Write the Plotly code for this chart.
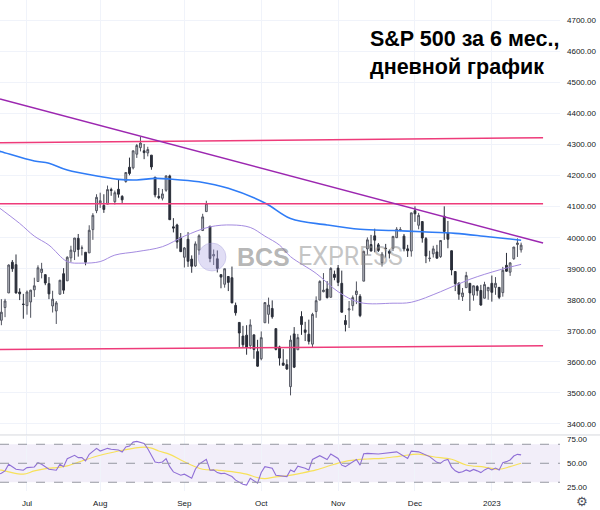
import plotly.graph_objects as go
from plotly.subplots import make_subplots

# daily S&P 500 bars
dates = [
    "2022-06-21", "2022-06-22", "2022-06-23", "2022-06-24", "2022-06-27", "2022-06-28", "2022-06-29", "2022-06-30",
    "2022-07-01", "2022-07-05", "2022-07-06", "2022-07-07", "2022-07-08", "2022-07-11", "2022-07-12", "2022-07-13",
    "2022-07-14", "2022-07-15", "2022-07-18", "2022-07-19", "2022-07-20", "2022-07-21", "2022-07-22", "2022-07-25",
    "2022-07-26", "2022-07-27", "2022-07-28", "2022-07-29",
    "2022-08-01", "2022-08-02", "2022-08-03", "2022-08-04", "2022-08-05", "2022-08-08", "2022-08-09", "2022-08-10",
    "2022-08-11", "2022-08-12", "2022-08-15", "2022-08-16", "2022-08-17", "2022-08-18", "2022-08-19", "2022-08-22",
    "2022-08-23", "2022-08-24", "2022-08-25", "2022-08-26", "2022-08-29", "2022-08-30", "2022-08-31",
    "2022-09-01", "2022-09-02", "2022-09-06", "2022-09-07", "2022-09-08", "2022-09-09", "2022-09-12", "2022-09-13",
    "2022-09-14", "2022-09-15", "2022-09-16", "2022-09-19", "2022-09-20", "2022-09-21", "2022-09-22", "2022-09-23",
    "2022-09-26", "2022-09-27", "2022-09-28", "2022-09-29", "2022-09-30",
    "2022-10-03", "2022-10-04", "2022-10-05", "2022-10-06", "2022-10-07", "2022-10-10", "2022-10-11", "2022-10-12",
    "2022-10-13", "2022-10-14", "2022-10-17", "2022-10-18", "2022-10-19", "2022-10-20", "2022-10-21", "2022-10-24",
    "2022-10-25", "2022-10-26", "2022-10-27", "2022-10-28", "2022-10-31",
    "2022-11-01", "2022-11-02", "2022-11-03", "2022-11-04", "2022-11-07", "2022-11-08", "2022-11-09", "2022-11-10",
    "2022-11-11", "2022-11-14", "2022-11-15", "2022-11-16", "2022-11-17", "2022-11-18", "2022-11-21", "2022-11-22",
    "2022-11-23", "2022-11-25", "2022-11-28", "2022-11-29", "2022-11-30",
    "2022-12-01", "2022-12-02", "2022-12-05", "2022-12-06", "2022-12-07", "2022-12-08", "2022-12-09", "2022-12-12",
    "2022-12-13", "2022-12-14", "2022-12-15", "2022-12-16", "2022-12-19", "2022-12-20", "2022-12-21", "2022-12-22",
    "2022-12-23", "2022-12-27", "2022-12-28", "2022-12-29", "2022-12-30",
    "2023-01-03", "2023-01-04", "2023-01-05", "2023-01-06", "2023-01-09", "2023-01-10", "2023-01-11", "2023-01-12",
    "2023-01-13",
]
opens = [
    3715, 3734, 3775, 3822, 3921, 3913, 3825, 3786,
    3781, 3793, 3832, 3859, 3888, 3881, 3852, 3780, 3764, 3818, 3884, 3861, 3935, 3955, 3998, 3966, 3953, 3951, 4026, 4087,
    4112, 4104, 4108, 4155, 4116, 4156, 4133, 4181, 4227, 4225, 4269, 4290, 4280, 4273, 4266, 4195, 4133, 4127, 4153, 4199,
    4035, 4041, 4001,
    3937, 3995, 3931, 3909, 3960, 4023, 4084, 4037, 3941, 3932, 3881, 3850, 3875, 3871, 3782, 3727, 3683, 3686, 3652, 3687,
    3633,
    3610, 3726, 3753, 3772, 3707, 3648, 3596, 3591, 3520, 3690, 3639, 3746, 3703, 3689, 3657, 3762, 3799, 3826, 3835, 3808,
    3882,
    3902, 3853, 3733, 3767, 3781, 3817, 3811, 3860, 3964, 3978, 4006, 3977, 3919, 3966, 3956, 3966, 4000, 4023, 4005, 3964,
    3957,
    4087, 4040, 4052, 3997, 3933, 3948, 3954, 3939, 4069, 4016, 3958, 3891, 3854, 3810, 3839, 3853, 3815, 3843, 3830, 3805,
    3829,
    3853, 3840, 3840, 3823, 3911, 3889, 3932, 3978, 3961,
]
highs = [
    3780, 3802, 3803, 3914, 3928, 3946, 3837, 3819,
    3830, 3832, 3871, 3911, 3919, 3881, 3873, 3829, 3796, 3864, 3902, 3940, 3974, 3999, 4012, 3975, 3953, 4040, 4079, 4140,
    4145, 4140, 4168, 4161, 4152, 4187, 4137, 4211, 4258, 4280, 4302, 4325, 4302, 4293, 4266, 4195, 4160, 4157, 4201, 4203,
    4063, 4045, 4015,
    3970, 4018, 3943, 3988, 4011, 4077, 4119, 4037, 3962, 3959, 3881, 3900, 3876, 3907, 3791, 3727, 3716, 3718, 3737, 3687,
    3671,
    3698, 3792, 3807, 3798, 3707, 3652, 3641, 3608, 3685, 3712, 3690, 3763, 3729, 3736, 3758, 3811, 3863, 3886, 3860, 3905,
    3894,
    3912, 3894, 3751, 3796, 3814, 3859, 3818, 3958, 4001, 4009, 4029, 3983, 3954, 3980, 3962, 4006, 4034, 4034, 4012, 3977,
    4080,
    4101, 4080, 4052, 4002, 3958, 3974, 3977, 3991, 4101, 4054, 3958, 3891, 3855, 3838, 3890, 3853, 3846, 3847, 3848, 3858,
    3840,
    3878, 3873, 3840, 3906, 3951, 3920, 3970, 3998, 3984,
]
lows = [
    3715, 3718, 3744, 3822, 3890, 3820, 3799, 3739,
    3752, 3742, 3809, 3859, 3869, 3847, 3802, 3759, 3722, 3817, 3819, 3861, 3922, 3928, 3939, 3943, 3911, 3951, 3993, 4079,
    4096, 4080, 4108, 4135, 4107, 4129, 4112, 4177, 4201, 4220, 4257, 4278, 4253, 4262, 4219, 4130, 4124, 4120, 4148, 4058,
    4017, 3965, 3955,
    3904, 3906, 3887, 3906, 3945, 4023, 4084, 3921, 3912, 3888, 3837, 3839, 3828, 3789, 3749, 3647, 3645, 3623, 3641, 3610,
    3584,
    3605, 3726, 3723, 3739, 3637, 3588, 3591, 3574, 3492, 3580, 3639, 3687, 3667, 3656, 3647, 3742, 3799, 3824, 3804, 3808,
    3863,
    3844, 3759, 3698, 3709, 3765, 3786, 3744, 3860, 3945, 3956, 3953, 3954, 3907, 3936, 3933, 3957, 3999, 4021, 3956, 3938,
    3939,
    4051, 4027, 3984, 3918, 3923, 3936, 3933, 3935, 3993, 3966, 3879, 3828, 3800, 3796, 3839, 3764, 3797, 3813, 3781, 3805,
    3800,
    3794, 3816, 3802, 3810, 3890, 3877, 3929, 3938, 3952,
]
closes = [
    3765, 3760, 3796, 3912, 3900, 3822, 3819, 3785,
    3825, 3831, 3845, 3903, 3899, 3854, 3819, 3802, 3790, 3863, 3831, 3937, 3960, 3999, 3962, 3967, 3921, 4024, 4072, 4130,
    4119, 4091, 4155, 4152, 4145, 4140, 4122, 4210, 4207, 4280, 4297, 4305, 4274, 4284, 4228, 4138, 4129, 4141, 4199, 4058,
    4031, 3986, 3955,
    3967, 3924, 3908, 3980, 4006, 4067, 4110, 3933, 3946, 3901, 3873, 3900, 3856, 3790, 3758, 3693, 3655, 3647, 3719, 3640,
    3586,
    3678, 3791, 3783, 3745, 3640, 3612, 3589, 3577, 3670, 3583, 3678, 3720, 3695, 3666, 3753, 3797, 3859, 3831, 3807, 3901,
    3872,
    3856, 3760, 3720, 3771, 3807, 3828, 3749, 3956, 3993, 3957, 3992, 3959, 3947, 3965, 3950, 4004, 4027, 4026, 3964, 3958,
    4080,
    4077, 4072, 3999, 3941, 3934, 3964, 3934, 3991, 4020, 3995, 3896, 3852, 3818, 3822, 3878, 3822, 3845, 3829, 3783, 3849,
    3840,
    3824, 3853, 3808, 3895, 3892, 3919, 3970, 3983, 3976,
]

# moving averages (blue = 200, violet = 50)
ma200_dates = ["2022-06-21", "2022-06-22", "2022-07-06", "2022-07-12", "2022-07-19", "2022-08-01", "2022-08-08",
               "2022-08-15", "2022-08-22", "2022-08-26", "2022-09-08", "2022-09-20", "2022-10-04", "2022-10-13",
               "2022-10-27", "2022-11-09", "2022-11-22", "2022-12-05", "2022-12-16", "2022-12-30", "2023-01-13"]
ma200 = [4280, 4277, 4247, 4240, 4218, 4197, 4188, 4186, 4191, 4189, 4180, 4159, 4112, 4062, 4041, 4027, 4023,
         4019, 4014, 4003, 3992]
ma50_dates = ["2022-06-21", "2022-06-29", "2022-07-06", "2022-07-12", "2022-07-19", "2022-07-25", "2022-08-01",
              "2022-08-05", "2022-08-15", "2022-08-24", "2022-09-01", "2022-09-13", "2022-09-21", "2022-09-28",
              "2022-10-04", "2022-10-10", "2022-10-13", "2022-10-24", "2022-11-01", "2022-11-09", "2022-11-22",
              "2022-11-30", "2022-12-12", "2022-12-22", "2023-01-05", "2023-01-13"]
ma50 = [4100, 4046, 4005, 3976, 3923, 3918, 3923, 3944, 3955, 3971, 4005, 4035, 4041, 4033, 4005, 3976, 3939,
        3885, 3826, 3791, 3789, 3792, 3826, 3866, 3896, 3914]

# RSI panel
rsi_dates = ["2022-06-21", "2022-06-22", "2022-06-23", "2022-06-24", "2022-06-27", "2022-06-28", "2022-06-30",
             "2022-07-01", "2022-07-06", "2022-07-07", "2022-07-08", "2022-07-12", "2022-07-14", "2022-07-15",
             "2022-07-18", "2022-07-19", "2022-07-21", "2022-07-22", "2022-07-25", "2022-07-26", "2022-07-27",
             "2022-07-29", "2022-08-01", "2022-08-03", "2022-08-04", "2022-08-08", "2022-08-09", "2022-08-10",
             "2022-08-11", "2022-08-12", "2022-08-15", "2022-08-17", "2022-08-18", "2022-08-22", "2022-08-23",
             "2022-08-24", "2022-08-25", "2022-08-26", "2022-08-29", "2022-08-31", "2022-09-01", "2022-09-06",
             "2022-09-07", "2022-09-08", "2022-09-12", "2022-09-13", "2022-09-14", "2022-09-15", "2022-09-16",
             "2022-09-19", "2022-09-21", "2022-09-22", "2022-09-26", "2022-09-27", "2022-09-28", "2022-09-29",
             "2022-09-30", "2022-10-03", "2022-10-04", "2022-10-06", "2022-10-07", "2022-10-12", "2022-10-13",
             "2022-10-14", "2022-10-17", "2022-10-19", "2022-10-20", "2022-10-21", "2022-10-25", "2022-10-27",
             "2022-10-28", "2022-11-01", "2022-11-02", "2022-11-03", "2022-11-07", "2022-11-08", "2022-11-09",
             "2022-11-10", "2022-11-11", "2022-11-16", "2022-11-23", "2022-11-29", "2022-11-30", "2022-12-02",
             "2022-12-07", "2022-12-09", "2022-12-12", "2022-12-13", "2022-12-14", "2022-12-15", "2022-12-16",
             "2022-12-19", "2022-12-20", "2022-12-21", "2022-12-22", "2022-12-23", "2022-12-27", "2022-12-28",
             "2022-12-29", "2022-12-30", "2023-01-03", "2023-01-04", "2023-01-05", "2023-01-06", "2023-01-09",
             "2023-01-10", "2023-01-11", "2023-01-12", "2023-01-13"]
rsi = [38, 39.5, 42, 49, 46.4, 43.7, 42.7,
       45.4, 46.1, 50.6, 49, 43.7, 42.7, 49,
       46.4, 54.8, 58.4, 55.9, 55.9, 52.4, 59.4,
       65.7, 62.9, 65.7, 64.7, 63.9, 61.8, 67.1,
       68.1, 72.3, 73, 70.9, 65.3, 51.4, 50.6,
       51.4, 54.8, 46.4, 40.9, 37.4, 38.5, 34.3,
       43.7, 49, 54.2, 42.7, 43, 40.2, 39.1,
       39.5, 36, 32.2, 28, 27, 34.3, 31.5,
       29.1, 40.2, 46.4, 44.8, 37.4, 36, 43,
       41, 47, 44.8, 43, 54, 58, 54,
       59.7, 55, 48, 46.5, 51.7, 54, 48,
       60, 60.4, 59.7, 62, 55, 62.8, 62,
       57, 51, 50, 53, 54, 46, 42,
       40.2, 41, 43, 41.5, 43.5, 42, 40.2,
       43, 44.9, 43, 45, 43, 50.7, 51.7,
       53.5, 57.6, 59.4, 58.8]
rsi_ma_dates = ["2022-06-21", "2022-06-22", "2022-06-24", "2022-06-30", "2022-07-06", "2022-07-12", "2022-07-14",
                "2022-07-19", "2022-07-25", "2022-08-01", "2022-08-08", "2022-08-12", "2022-08-17", "2022-08-19",
                "2022-08-23", "2022-08-26", "2022-08-31", "2022-09-06", "2022-09-09", "2022-09-15", "2022-09-21",
                "2022-09-27", "2022-09-30", "2022-10-04", "2022-10-07", "2022-10-12", "2022-10-18", "2022-10-24",
                "2022-10-31", "2022-11-04", "2022-11-11", "2022-11-17", "2022-11-25", "2022-12-02", "2022-12-08",
                "2022-12-15", "2022-12-21", "2022-12-29", "2023-01-05", "2023-01-10", "2023-01-13"]
rsi_ma = [43.2, 42.7, 40.9, 38.5, 41.9, 44.8, 45.4, 47.2, 52.4, 58.4, 62.9, 65.7, 67.1, 66, 62.9, 59.4, 53.5,
          47.9, 43.7, 42.7, 41.2, 38.5, 34.9, 33.9, 35.7, 36.8, 39.6, 43, 49, 52.7, 54.5, 55.2, 57.6, 59.7,
          56.9, 54.2, 48.2, 46, 43.7, 46.4, 50]

# drawn levels: (start value, end value)
line_start = "2022-06-22 03:00"
line_end = "2023-01-23 12:00"
pink_levels = [(4306, 4322), (4109, 4109), (3640, 3652)]
trend_level = (4447, 3983)

month_ticks = ["2022-07-01", "2022-08-01", "2022-09-01", "2022-10-03", "2022-11-01", "2022-12-01", "2023-01-03"]
month_labels = ["Jul", "Aug", "Sep", "Oct", "Nov", "Dec", "2023"]
holidays = ["2022-07-04", "2022-09-05", "2022-11-24", "2022-12-26", "2023-01-02"]


def noon(days):
    return [d + " 12:00" for d in days]


grid = "#f0f3fa"
tick_font = dict(family="Liberation Sans, Arial", size=8, color="#131722")

fig = make_subplots(rows=2, cols=1, shared_xaxes=True)

fig.add_trace(go.Candlestick(
    x=noon(dates), open=opens, high=highs, low=lows, close=closes,
    increasing=dict(line=dict(color="#50535e", width=1), fillcolor="#c4c7ce"),
    decreasing=dict(line=dict(color="#2a2e39", width=1), fillcolor="#2a2e39"),
    hoverinfo="skip", showlegend=False), row=1, col=1)
fig.add_trace(go.Scatter(x=noon(ma200_dates), y=ma200, mode="lines", line=dict(color="#2f7cf6", width=1.6, shape="spline"),
                         hoverinfo="skip"), row=1, col=1)
fig.add_trace(go.Scatter(x=noon(ma50_dates), y=ma50, mode="lines", line=dict(color="#a48be0", width=1, shape="spline"),
                         hoverinfo="skip"), row=1, col=1)

for v0, v1 in pink_levels:
    fig.add_shape(type="line", xref="x", yref="y", x0=line_start, x1=line_end, y0=v0, y1=v1,
                  line=dict(color="#ee3b7a", width=1.5))
fig.add_shape(type="line", xref="x", yref="y", x0=line_start, x1=line_end, y0=trend_level[0], y1=trend_level[1],
              line=dict(color="#9c27b0", width=1.5))

# RSI band
fig.add_shape(type="rect", xref="x2 domain", yref="y2", x0=0, x1=1, y0=30, y1=70,
              fillcolor="rgba(126,87,194,0.1)", line_width=0, layer="below")
for lvl in (70, 50, 30):
    fig.add_shape(type="line", xref="x2 domain", yref="y2", x0=0, x1=1, y0=lvl, y1=lvl,
                  line=dict(color="#9598a1", width=1, dash="dash"))

fig.add_trace(go.Scatter(x=noon(rsi_ma_dates), y=rsi_ma, mode="lines", line=dict(color="#f7e15a", width=1.2, shape="spline"),
                         hoverinfo="skip"), row=2, col=1)
fig.add_trace(go.Scatter(x=noon(rsi_dates), y=rsi, mode="lines", line=dict(color="#8f6fd6", width=1.1),
                         hoverinfo="skip"), row=2, col=1)

# pane separator
fig.add_shape(type="line", xref="paper", yref="paper", x0=0, x1=600 / 560, y0=0.1141, y1=0.1141,
              line=dict(color="#d6d8de", width=1))

# watermark
fig.add_shape(type="circle", xref="paper", yref="paper", x0=0.3536, x1=0.4036, y0=0.448, y1=0.505,
              fillcolor="rgba(170,160,225,0.35)", line=dict(color="rgba(150,140,210,0.3)", width=1))
fig.add_annotation(text="<b>BCS</b>", xref="paper", yref="paper", x=0.4196, y=0.4766, xanchor="left", yanchor="middle",
                   showarrow=False, font=dict(family="Liberation Sans, Arial", size=25, color="rgba(120,120,120,0.55)"))
fig.add_annotation(text="EXPRESS", xref="paper", yref="paper", x=0.5286, y=0.4766, xanchor="left", yanchor="middle",
                   showarrow=False, font=dict(family="Roboto", size=25, color="rgba(140,140,140,0.5)"))

fig.add_annotation(text="<b>S&P 500 за 6 мес.,<br>дневной график</b>", xref="paper", yref="paper",
                   x=368 / 560, y=0.95, xanchor="left", yanchor="top", align="left", showarrow=False,
                   font=dict(family="Liberation Sans, Arial", size=21.5, color="#000000"))
fig.add_annotation(text="⚙", xref="paper", yref="paper", x=582 / 560, y=-0.0224, xanchor="center", yanchor="middle",
                   showarrow=False, font=dict(family="DejaVu Sans", size=13, color="#50535e"))

xaxis_common = dict(
    range=[line_start, "2023-01-30 03:00"],
    rangebreaks=[dict(bounds=["sat", "mon"]), dict(values=holidays)],
    tickvals=noon(month_ticks), ticktext=month_labels,
    showgrid=True, gridcolor=grid, gridwidth=1, zeroline=False, showline=False,
    tickfont=tick_font, ticks="",
)
fig.update_xaxes(**xaxis_common)
fig.update_layout(
    width=600, height=510,
    margin=dict(l=0, r=40, t=0, b=19),
    paper_bgcolor="white", plot_bgcolor="white",
    showlegend=False,
    xaxis=dict(rangeslider=dict(visible=False), showticklabels=False),
    xaxis2=dict(showticklabels=True, ticklabelstandoff=6),
    yaxis=dict(domain=[0.1141, 1], range=[3364.4, 4765.8], side="right", dtick=100, tick0=0,
               tickformat=".2f", gridcolor=grid, zeroline=False, tickfont=tick_font, ticklabelstandoff=6),
    yaxis2=dict(domain=[0, 0.112], range=[20.8, 78.7], side="right", tickvals=[25, 50, 75],
                tickformat=".2f", showgrid=False, zeroline=False, tickfont=tick_font, ticklabelstandoff=6),
)

# the page's default body margin would push the figure 8px off the window's corner
fig.write_html("out.html", config={"displayModeBar": False},
               post_script="document.body.style.margin='0';")
